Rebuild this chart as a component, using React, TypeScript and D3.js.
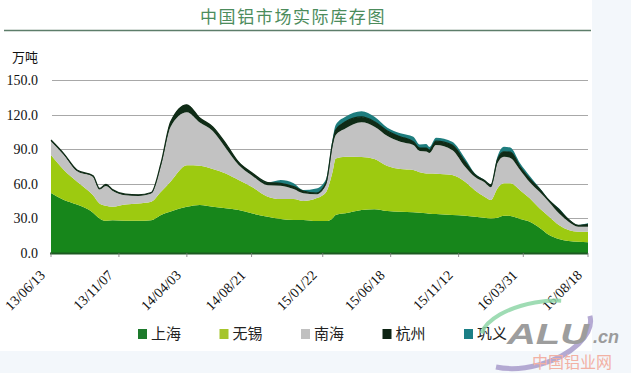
import React from "react";
import * as d3 from "d3";

// weekly readings (万吨)
const dates = [
  "2013-06-13", "2013-07-11", "2013-08-08", "2013-09-12", "2013-09-26", "2013-10-10",
  "2013-10-24", "2013-11-21", "2013-12-19", "2014-01-16", "2014-02-06", "2014-02-27",
  "2014-04-03", "2014-05-01", "2014-05-29", "2014-06-26", "2014-07-24", "2014-08-21",
  "2014-09-25", "2014-10-23", "2014-11-20", "2014-12-11", "2015-01-08", "2015-01-29",
  "2015-02-12", "2015-02-19", "2015-03-12", "2015-04-16", "2015-05-14", "2015-06-11",
  "2015-07-09", "2015-08-06", "2015-08-20", "2015-09-03", "2015-09-10", "2015-09-24",
  "2015-10-29", "2015-11-26", "2015-12-17", "2016-01-07", "2016-01-21", "2016-02-04",
  "2016-02-18", "2016-03-03", "2016-03-24", "2016-04-14", "2016-05-05", "2016-05-26",
  "2016-06-16", "2016-07-07", "2016-07-28", "2016-08-18",
];
const shanghai = [
  52, 46, 42, 35, 30, 28, 28.5, 28, 28, 28.5, 33, 36,
  40, 41.6, 40, 38.7, 37.3, 34.4, 31.5, 29.5, 28.6, 28.6, 27.7, 27.7,
  30, 33, 34.4, 37.3, 38, 36.4, 35.8, 35.3, 35, 34.4, 34, 33.8,
  33, 32.4, 31.5, 30.6, 30, 30.6, 32.4, 32, 29.5, 27.2, 22, 15.6,
  12.1, 10.4, 9.8, 9.3,
];
const wuxi = [
  33, 26, 20, 15, 13, 13, 11.5, 14, 15, 16, 20, 26,
  36, 34, 32.8, 30.3, 26, 23, 17.3, 17.3, 18.2, 16.4, 19.7, 25,
  40, 49, 49, 46, 43.5, 39, 37, 36.7, 35, 34.6, 35, 35,
  34.6, 29.4, 23, 18.2, 16, 25.4, 28, 28.4, 25, 20.2, 16.7, 15.9,
  12.2, 9.6, 8.7, 9.2,
];
const nanhai = [
  12, 13, 9, 16, 12, 17, 14, 8, 6.5, 7, 23, 47.5,
  46, 37.5, 33, 22, 13, 10, 10, 11.6, 8.7, 6.8, 3.5, 6.3,
  22, 20, 24.5, 30, 28, 26, 23.7, 21.6, 18.5, 19, 17.7, 24.8,
  21.7, 13, 11.6, 12.5, 11, 21.8, 23, 22, 17.5, 13.9, 14.3, 12.5,
  10.1, 7.2, 4.3, 4.2,
];
const hangzhou = [
  1, 1, 1, 1, 1, 1.5, 1, 1, 1, 1, 1.8, 4.3,
  6.5, 4, 3.5, 4, 2.5, 2.4, 2.3, 2, 2, 2, 1, 2,
  3, 4.6, 5.8, 4.7, 4.3, 4.3, 4.3, 2.9, 2.5, 3, 2.5, 3.4,
  4.3, 4.2, 2, 1.5, 2, 3, 4.4, 5, 2.8, 3, 2.6, 1.5,
  3.3, 1.8, 1.2, 2.2,
];
const gongyi = [
  0, 0, 0, 0, 0, 0, 0, 0, 0, 0, 0, 0,
  0, 0, 0, 0, 0, 0, 0, 2.8, 2.9, 0.8, 4, 3,
  3, 4.4, 4.4, 5, 4.4, 3, 3, 4.3, 3, 3.6, 2.8, 3,
  2.9, 3, 1, 0.5, 0.5, 2.7, 4.4, 4, 3, 2.5, 1, 0.5,
  1, 0.5, 0.3, 0.8,
];

const seriesNames = ["上海", "无锡", "南海", "杭州", "巩义"];
const seriesColors = ["#17861b", "#9dca10", "#c2c2c2", "#0f2b16", "#1e7d7e"];
const legendColors = ["#1d7a2c", "#a6c52c", "#c0c0c0", "#0e2414", "#1b7f86"];

const tickDates = [
  "2013-06-13", "2013-11-07", "2014-04-03", "2014-08-21", "2015-01-22",
  "2015-06-18", "2015-11-12", "2016-03-31", "2016-08-18",
];
const tickLabels = [
  "13/06/13", "13/11/07", "14/04/03", "14/08/21", "15/01/22",
  "15/06/18", "15/11/12", "16/03/31", "16/08/18",
];
const yTicks = [0, 30, 60, 90, 120, 150];

const W = 631;
const H = 373;
const serif = "'Liberation Serif', 'DejaVu Serif', serif";
const cjk = "'Noto Sans CJK SC', sans-serif";
const sans = "'Liberation Sans', Arial, sans-serif";

export default function App() {
  const parse = d3.timeParse("%Y-%m-%d");
  const x = d3
    .scaleTime()
    .domain([parse(dates[0])!, parse(dates[dates.length - 1])!])
    .range([51, 588]);
  const y = d3.scaleLinear().domain([0, 150]).range([253, 80]);

  const series = [shanghai, wuxi, nanhai, hangzhou, gongyi];
  const rows = dates.map((d, i) => {
    const r: any = { date: parse(d) };
    seriesNames.forEach((k, j) => (r[k] = series[j][i]));
    return r;
  });
  const stacked = d3.stack<any>().keys(seriesNames)(rows);

  const area = d3
    .area<any>()
    .x((d) => x(d.data.date))
    .y0((d) => y(d[0]))
    .y1((d) => y(d[1]))
    .curve(d3.curveMonotoneX);

  const topLine = d3
    .line<any>()
    .x((d) => x(d.data.date))
    .y((d) => y(d[1]))
    .curve(d3.curveMonotoneX);

  return (
    <svg width={W} height={H} style={{ position: "absolute", left: 0, top: 0 }}>
      <rect width={W} height={H} fill="#f3f7fb" />
      <rect width={592} height={351} fill="#ffffff" />

      {/* title */}
      <text x={293} y={23} textAnchor="middle" fontFamily={cjk} fontSize={17}
        letterSpacing={1.6} fill="#4c8c5c">中国铝市场实际库存图</text>
      <line x1={4} x2={591} y1={30.5} y2={30.5} stroke="#5d7d6a" strokeWidth={1.3} />

      <text x={12} y={62} fontFamily={cjk} fontSize={13} fill="#111">万吨</text>

      {/* grid + y labels */}
      {yTicks.map((t) => (
        <g key={t}>
          {t > 0 && (
            <line x1={52} x2={588} y1={Math.round(y(t)) + 0.5} y2={Math.round(y(t)) + 0.5}
              stroke="#a8a8a8" strokeWidth={1} />
          )}
          <text x={38} y={y(t) + 5} textAnchor="end" fontFamily={serif} fontSize={14}
            fill="#111">{t.toFixed(1)}</text>
        </g>
      ))}

      {/* stacked areas */}
      {stacked.map((s, i) => (
        <path key={s.key} d={area(s) || ""} fill={seriesColors[i]} />
      ))}
      <path d={topLine(stacked[3]) || ""} fill="none" stroke="#0f2b16" strokeWidth={1.2} />

      {/* x axis */}
      <line x1={50} x2={588} y1={253.5} y2={253.5} stroke="#1d5a22" strokeWidth={2} />
      {tickDates.map((d, i) => {
        const tx = x(parse(d)!);
        return (
          <g key={d}>
            <line x1={tx} x2={tx} y1={253} y2={257} stroke="#777" strokeWidth={0.8} />
            <text transform={`translate(${tx - 5},${276}) rotate(-45)`} textAnchor="end"
              fontFamily={serif} fontSize={14} fill="#111">{tickLabels[i]}</text>
          </g>
        );
      })}

      {/* legend */}
      {seriesNames.map((n, i) => (
        <g key={n} transform={`translate(${138 + i * 81.5},329)`}>
          <rect x={0} y={0} width={9} height={10} fill={legendColors[i]} />
          <text x={13} y={10} fontFamily={cjk} fontSize={15} fill="#222">{n}</text>
        </g>
      ))}

      {/* watermark */}
      <g opacity={0.85}>
        <ellipse cx={530} cy={332} rx={62} ry={34} fill="none" stroke="#a99ccc"
          strokeWidth={5} strokeDasharray="120 300" transform="rotate(-15 530 332)" />
        <ellipse cx={540} cy={330} rx={60} ry={28} fill="none" stroke="#8fd6a8"
          strokeWidth={4} strokeDasharray="90 400" strokeDashoffset={-150}
          transform="rotate(-10 540 330)" />
        <text x={507} y={344} fontFamily={sans} fontSize={30} fontWeight="bold"
          fontStyle="italic" fill="#8c8c8c" textLength={82} lengthAdjust="spacingAndGlyphs">ALU</text>
        <text x={593} y={343} fontFamily={sans} fontSize={18} fontWeight="bold"
          fontStyle="italic" fill="#8c8c8c">.cn</text>
        <text x={532} y={368} fontFamily={cjk} fontSize={16} fill="#f2a595">中国铝业网</text>
      </g>
    </svg>
  );
}
